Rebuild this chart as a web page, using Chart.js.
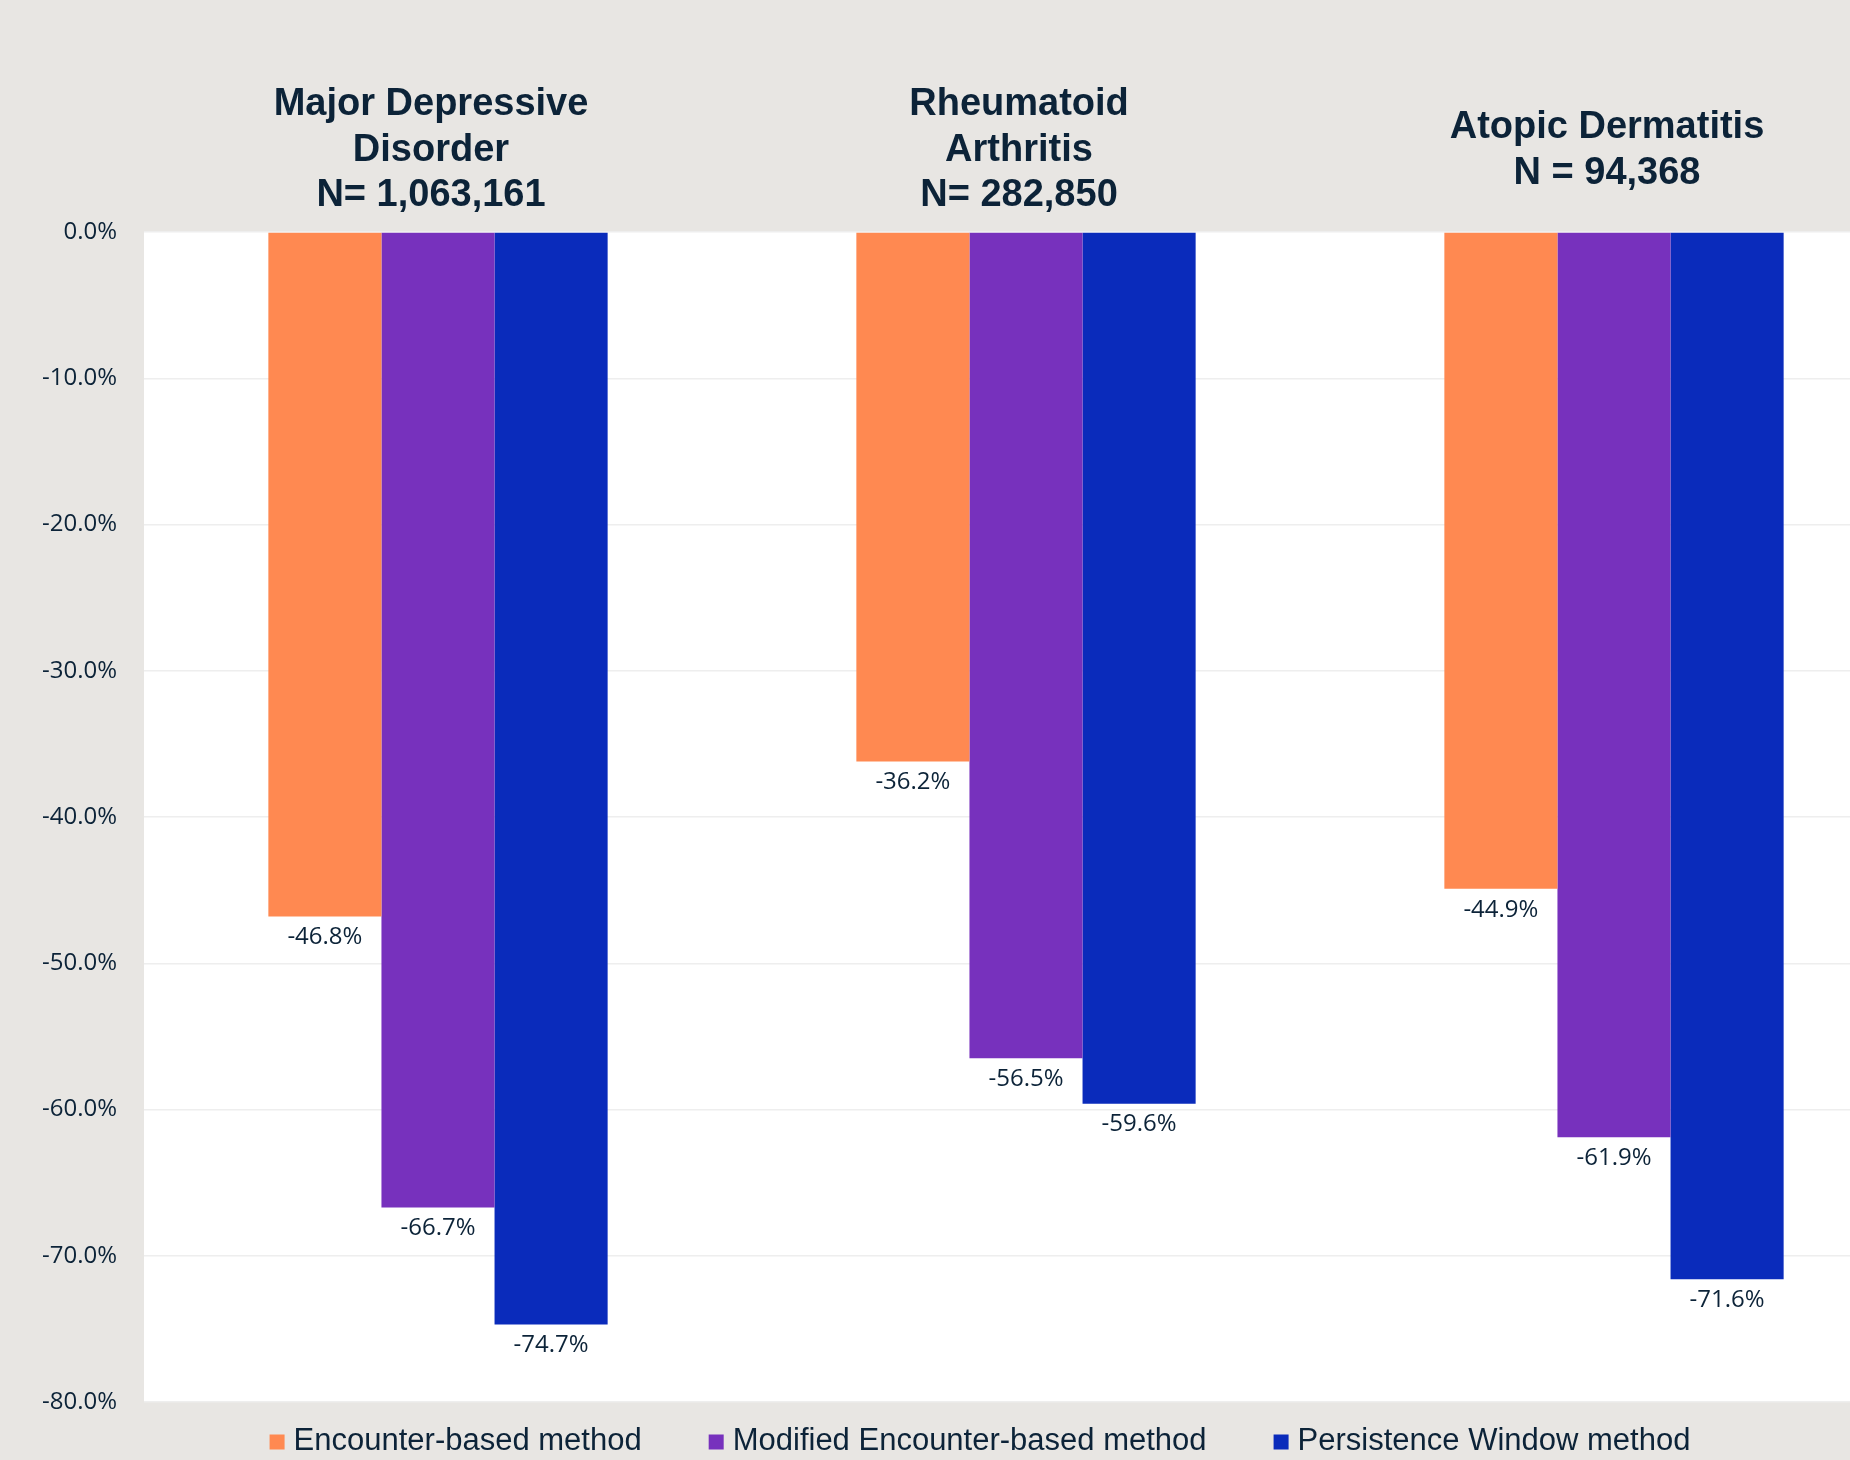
<!DOCTYPE html>
<html>
<head>
<meta charset="utf-8">
<script src="https://cdn.jsdelivr.net/npm/chart.js@4.4.1/dist/chart.umd.min.js"></script>
<style>
    html, body { margin: 0; padding: 0; background: #e8e6e3; overflow: hidden; }
    #contenedor { width: 1908px; height: 1460px; position: relative; }
</style>
</head>
<body>
<div id="contenedor"><canvas id="grafico"></canvas></div>
<script>
// Datos del gráfico
const categorias = [
    ['Major Depressive', 'Disorder', 'N= 1,063,161'],
    ['Rheumatoid', 'Arthritis', 'N= 282,850'],
    ['Atopic Dermatitis', 'N = 94,368']
];
const metodos = ['Encounter-based method', 'Modified Encounter-based method', 'Persistence Window method'];
const colores = ['#ff8951', '#7731bd', '#0a2bbb'];
const encuentro = [-46.8, -36.2, -44.9];
const encuentroModificado = [-66.7, -56.5, -61.9];
const ventanaPersistencia = [-74.7, -59.6, -71.6];
const ticksY = [0, -10, -20, -30, -40, -50, -60, -70, -80];

const colorTexto = '#0c2338';

// Fondo blanco solo en el área del gráfico
const fondoArea = {
    id: 'fondoArea',
    beforeDraw(chart) {
        const { ctx, chartArea } = chart;
        ctx.save();
        ctx.fillStyle = '#ffffff';
        ctx.fillRect(chartArea.left, chartArea.top, chartArea.right - chartArea.left, chartArea.bottom - chartArea.top);
        ctx.restore();
    }
};

// Etiquetas de valor debajo de cada barra
const etiquetasValor = {
    id: 'etiquetasValor',
    afterDatasetsDraw(chart) {
        const ctx = chart.ctx;
        ctx.save();
        ctx.font = '24px "Open Sans"';
        ctx.fillStyle = colorTexto;
        ctx.textAlign = 'center';
        ctx.textBaseline = 'middle';
        chart.data.datasets.forEach((ds, i) => {
            chart.getDatasetMeta(i).data.forEach((barra, j) => {
                ctx.fillText(ds.data[j].toFixed(1) + '%', barra.x, barra.y + 21);
            });
        });
        ctx.restore();
    }
};

// Títulos de cada grupo arriba del área
const titulosGrupo = {
    id: 'titulosGrupo',
    afterDraw(chart) {
        const ctx = chart.ctx;
        const escalaX = chart.scales.x;
        const altoLinea = 45.5;
        const centroY = 150.5;
        ctx.save();
        ctx.font = 'bold 38px "Liberation Sans"';
        ctx.fillStyle = colorTexto;
        ctx.textAlign = 'center';
        ctx.textBaseline = 'middle';
        categorias.forEach((lineas, i) => {
            const x = escalaX.getPixelForValue(i) - 7;
            const inicio = centroY - (lineas.length - 1) * altoLinea / 2;
            lineas.forEach((linea, k) => ctx.fillText(linea, x, inicio + k * altoLinea));
        });
        ctx.restore();
    }
};

// Leyenda dibujada a mano para controlar el espaciado
const leyenda = {
    id: 'leyenda',
    afterDraw(chart) {
        const ctx = chart.ctx;
        const caja = 15, separacion = 9, hueco = 67, y = 1441;
        ctx.save();
        ctx.font = '31px "Liberation Sans"';
        ctx.textBaseline = 'middle';
        const anchos = chart.data.datasets.map(ds => ctx.measureText(ds.label).width);
        const total = anchos.reduce((a, b) => a + b, 0) + anchos.length * (caja + separacion) + (anchos.length - 1) * hueco;
        let x = 980 - total / 2;
        chart.data.datasets.forEach((ds, i) => {
            ctx.fillStyle = ds.backgroundColor;
            ctx.fillRect(x, y - caja / 2 + 1, caja, caja);
            x += caja + separacion;
            ctx.fillStyle = colorTexto;
            ctx.fillText(ds.label, x, y);
            x += anchos[i] + hueco;
        });
        ctx.restore();
    }
};

const series = [encuentro, encuentroModificado, ventanaPersistencia];

new Chart(document.getElementById('grafico'), {
    type: 'bar',
    data: {
        labels: categorias.map(c => c.join(' ')),
        datasets: series.map((datos, i) => ({
            label: metodos[i],
            data: datos,
            backgroundColor: colores[i],
            borderWidth: 0,
            categoryPercentage: 0.577,
            barPercentage: 1
        }))
    },
    options: {
        responsive: true,
        maintainAspectRatio: false,
        animation: false,
        layout: { padding: { top: 232, bottom: 58, left: 0, right: 0 } },
        scales: {
            x: {
                display: false
            },
            y: {
                min: -80,
                max: 0,
                afterFit: escala => { escala.width = 144; },
                afterBuildTicks: escala => { escala.ticks = ticksY.map(v => ({ value: v })); },
                border: { display: false },
                grid: { color: '#eeeeee', lineWidth: 1.5, drawTicks: false },
                ticks: {
                    padding: 27,
                    color: colorTexto,
                    font: { family: '"Open Sans"', size: 24 },
                    callback: valor => valor.toFixed(1) + '%'
                }
            }
        },
        plugins: {
            legend: { display: false },
            tooltip: { enabled: false }
        }
    },
    plugins: [fondoArea, etiquetasValor, titulosGrupo, leyenda]
});
</script>
</body>
</html>
